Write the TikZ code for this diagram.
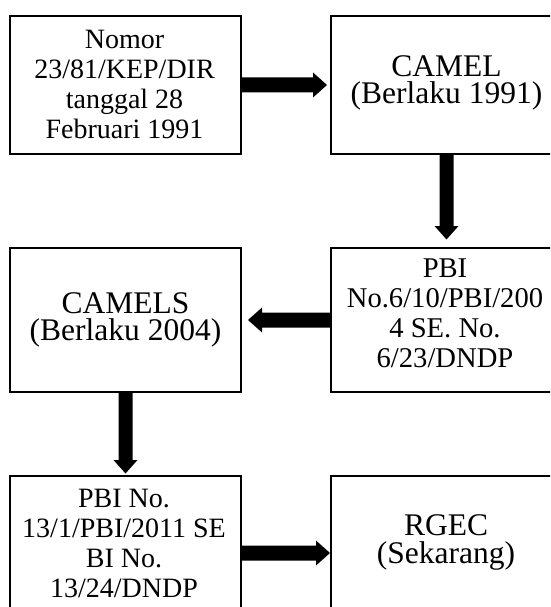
\documentclass[tikz,border=0pt]{standalone}
\usepackage{fontspec}
\setmainfont{Liberation Serif}
\usetikzlibrary{calc}
\newcommand\ArrR[2]{\fill let \p1=(#1), \p2=(#2) in (\x1,\y1-7.5pt) -- (\x2-14pt,\y1-7.5pt) -- (\x2-14pt,\y1-12.5pt) -- (\x2,\y1) -- (\x2-14pt,\y1+12.5pt) -- (\x2-14pt,\y1+7.5pt) -- (\x1,\y1+7.5pt) -- cycle;}
\newcommand\ArrL[2]{\fill let \p1=(#1), \p2=(#2) in (\x1,\y1-7.5pt) -- (\x2+14pt,\y1-7.5pt) -- (\x2+14pt,\y1-12.5pt) -- (\x2,\y1) -- (\x2+14pt,\y1+12.5pt) -- (\x2+14pt,\y1+7.5pt) -- (\x1,\y1+7.5pt) -- cycle;}
\newcommand\ArrD[2]{\fill let \p1=(#1), \p2=(#2) in (\x1-7pt,\y1) -- (\x1-7pt,\y2+13.5pt) -- (\x1-12pt,\y2+13.5pt) -- (\x1,\y2) -- (\x1+12pt,\y2+13.5pt) -- (\x1+7pt,\y2+13.5pt) -- (\x1+7pt,\y1) -- cycle;}
\begin{document}
\begin{tikzpicture}[x=1pt,y=-1pt,
  box/.style={draw=black,line width=2pt,rectangle,inner sep=0pt,outer sep=0pt,minimum width=231pt},
  txtL/.style={align=center,inner sep=0pt,font=\fontsize{28}{30}\selectfont},
  txtM/.style={align=center,inner sep=0pt,font=\fontsize{28.6}{30}\selectfont},
  txtS/.style={align=center,inner sep=0pt,font=\fontsize{31.5}{27.6}\selectfont}]
\clip (0,0) rectangle (550,607);
\fill[white] (0,0) rectangle (550,607);
\node[box,minimum height=138pt] (b1) at (125.5,85) {};
\node[box,minimum height=138pt] (b2) at (446.5,85) {};
\node[box,minimum height=144pt] (b3) at (125.5,320) {};
\node[box,minimum height=144pt] (b4) at (446.5,320) {};
\node[box,minimum height=138pt] (b5) at (125.5,545) {};
\node[box,minimum height=138pt] (b6) at (446.5,545) {};
\node[txtL] (t1) at (124.5,84.2) {Nomor\\23/81/KEP/DIR\\tanggal 28\\Februari 1991};
\node[txtS] (t2) at (446.5,82.9) {CAMEL\\(Berlaku 1991)};
\node[txtS] (t3) at (125.5,320) {CAMELS\\(Berlaku 2004)};
\node[txtM] (t4) at (445,313) {PBI\\No.6/10/PBI/200\\4 SE. No.\\6/23/DNDP};
\node[txtL] (t5) at (124,543) {PBI No.\\13/1/PBI/2011 SE\\BI No.\\13/24/DNDP};
\node[txtS] (t6) at (446,542.2) {RGEC\\(Sekarang)};
\ArrR{b1.east}{$(b2.west)+(-4pt,0pt)$}
\ArrD{b2.south}{$(b4.north)+(0pt,8.5pt)$}
\ArrL{b4.west}{$(b3.east)+(7pt,0pt)$}
\ArrD{b3.south}{$(b5.north)+(0pt,2.5pt)$}
\ArrR{$(b5.east)+(0pt,-8pt)$}{$(b6.west)+(-1pt,-8pt)$}
\end{tikzpicture}
\end{document}
